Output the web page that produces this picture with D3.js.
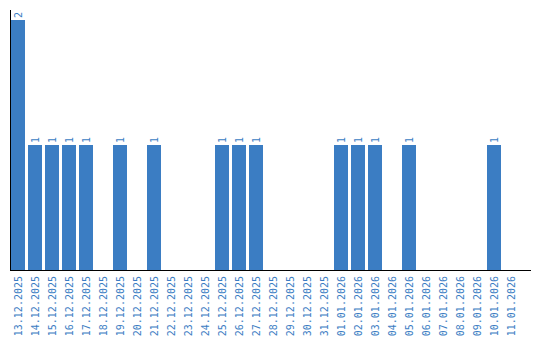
<!DOCTYPE html>
<html>
<head>
<meta charset="utf-8">
<script src="https://cdn.jsdelivr.net/npm/d3@7"></script>
<style>
  body { margin: 0; background: #fff; }
  text { font-family: "DejaVu Sans Mono", monospace; }
</style>
</head>
<body>
<div class="svg-content"></div>
<script>
const dates = [
  "13.12.2025", "14.12.2025", "15.12.2025", "16.12.2025", "17.12.2025",
  "18.12.2025", "19.12.2025", "20.12.2025", "21.12.2025", "22.12.2025",
  "23.12.2025", "24.12.2025", "25.12.2025", "26.12.2025", "27.12.2025",
  "28.12.2025", "29.12.2025", "30.12.2025", "31.12.2025", "01.01.2026",
  "02.01.2026", "03.01.2026", "04.01.2026", "05.01.2026", "06.01.2026",
  "07.01.2026", "08.01.2026", "09.01.2026", "10.01.2026", "11.01.2026"
];
const counts = [2, 1, 1, 1, 1, 0, 1, 0, 1, 0, 0, 0, 1, 1, 1, 0, 0, 0, 0, 1, 1, 1, 0, 1, 0, 0, 0, 0, 1, 0];

const svgWidth = 540;
const svgHeight = 340;
const left = 10;
const baseline = 270;
const blue = "#3b7dc3";

const xScale = d3.scaleBand()
                 .domain(dates)
                 .range([11, 518])
                 .paddingInner(3 / 17)
                 .paddingOuter(0);

const yScale = d3.scaleLinear()
                 .domain([0, 2])
                 .range([baseline, 20]);

const svg = d3.select(".svg-content")
              .append("svg")
              .attr("width", svgWidth)
              .attr("height", svgHeight);

const data = dates.map((d, i) => ({ date: d, value: counts[i] }));

svg.selectAll("rect")
   .data(data.filter(d => d.value > 0))
   .enter()
   .append("rect")
   .attr("x", d => xScale(d.date))
   .attr("y", d => yScale(d.value))
   .attr("width", xScale.bandwidth())
   .attr("height", d => baseline - yScale(d.value))
   .attr("fill", blue);

// value labels, rotated above bars
svg.selectAll(".value")
   .data(data.filter(d => d.value > 0))
   .enter()
   .append("text")
   .attr("class", "value")
   .attr("transform", d => "translate(" + (xScale(d.date) + xScale.bandwidth() / 2 + 3.5) + "," + (yScale(d.value) - 2) + ") rotate(-90)")
   .attr("font-size", "10px")
   .attr("fill", blue)
   .text(d => d.value);

// x axis
const xAxis = d3.axisBottom(xScale).tickSize(0).tickPadding(0);
const gx = svg.append("g")
              .attr("transform", "translate(0," + baseline + ")")
              .call(xAxis);
gx.select(".domain").remove();
gx.selectAll("text")
  .attr("font-size", "10px")
  .attr("font-family", "DejaVu Sans Mono, monospace")
  .attr("fill", blue)
  .attr("text-anchor", "end")
  .attr("dy", null)
  .attr("y", 0)
  .attr("transform", "translate(3.5,6) rotate(-90)");

svg.append("line")
   .attr("x1", left)
   .attr("x2", 531)
   .attr("y1", baseline + 0.5)
   .attr("y2", baseline + 0.5)
   .attr("stroke", "#000");

svg.append("line")
   .attr("x1", left + 0.5)
   .attr("x2", left + 0.5)
   .attr("y1", 10)
   .attr("y2", baseline)
   .attr("stroke", "#000");
</script>
</body>
</html>
